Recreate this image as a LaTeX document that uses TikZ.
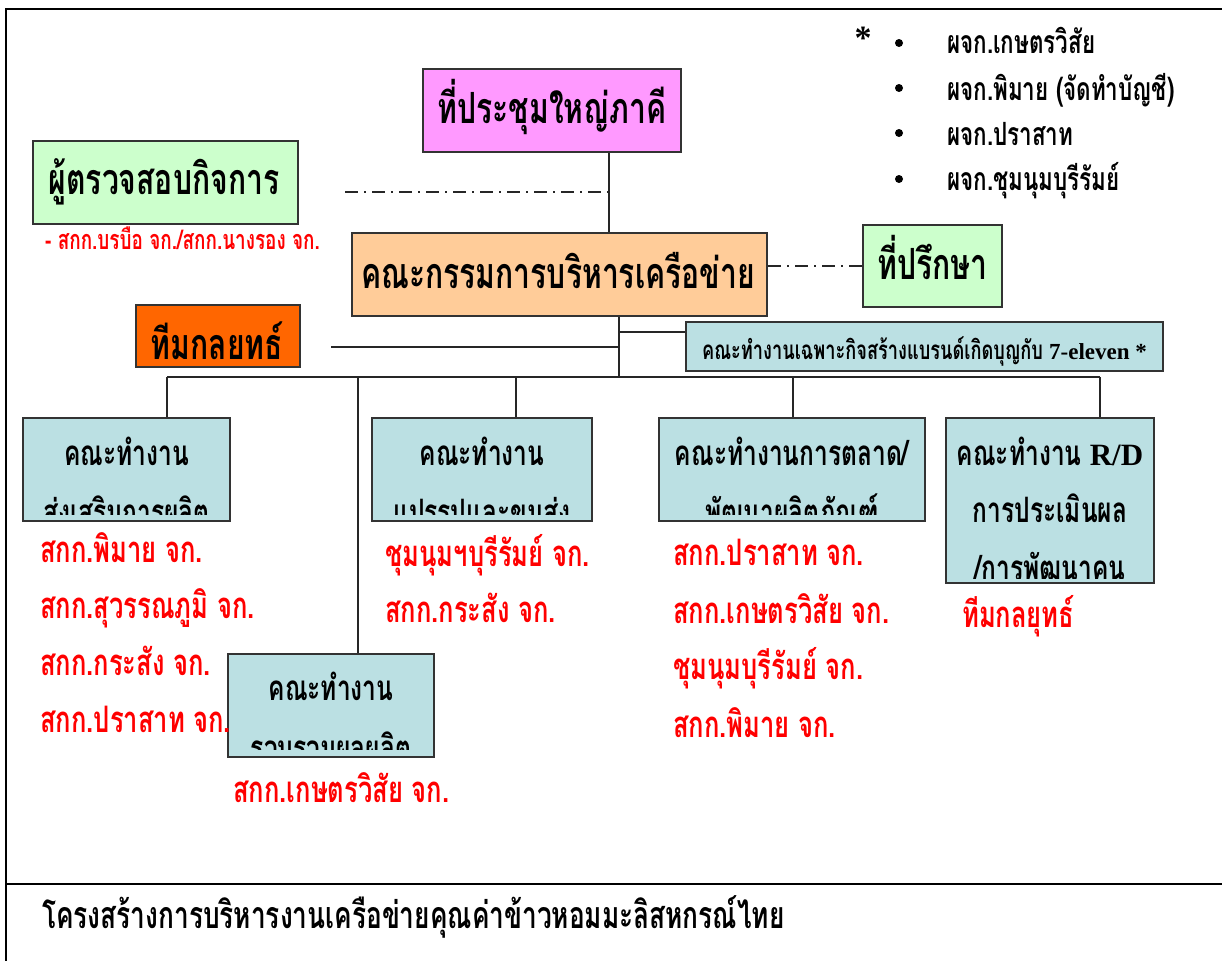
\documentclass[tikz,border=0pt]{standalone}
\usepackage{fontspec}
\setmainfont{Liberation Serif}
\newfontfamily\thai[Script=Thai,FakeStretch=0.7]{Loma}
\usetikzlibrary{calc}
\definecolor{pinkbox}{HTML}{FF99FF}
\definecolor{greenbox}{HTML}{CCFFCC}
\definecolor{peachbox}{HTML}{FFCC99}
\definecolor{orangebox}{HTML}{FF6600}
\definecolor{bluebox}{HTML}{BBE0E3}
\definecolor{redtxt}{HTML}{FF0000}
\definecolor{edge}{HTML}{333333}
\tikzset{
  boxnode/.style={draw=edge, line width=2pt, inner sep=0pt},
  bigtxt/.style={inner sep=0pt, font=\thai\bfseries\fontsize{43}{46}\selectfont},
  midtxt/.style={inner sep=0pt, font=\thai\bfseries\fontsize{35}{38}\selectfont},
  smalltxt/.style={inner sep=0pt, font=\thai\bfseries\fontsize{26}{29}\selectfont},
  redlbl/.style={inner sep=0pt, text=redtxt, anchor=base west, font=\thai\bfseries\fontsize{36.5}{39}\selectfont},
  sublbl/.style={inner sep=0pt, text=redtxt, anchor=base west, font=\thai\bfseries\fontsize{27}{30}\selectfont},
  listtxt/.style={inner sep=0pt, anchor=base west, font=\thai\bfseries\fontsize{32}{34}\selectfont},
  dotnode/.style={circle, fill=black, inner sep=0pt, minimum size=8pt},
  conn/.style={line width=1.6pt, draw=black!85},
  dashdot/.style={line width=1.4pt, draw=black!85, dash pattern=on 13pt off 6pt on 2pt off 6pt},
  frame/.style={line width=2.6pt, draw=black}
}
\begin{document}
\begin{tikzpicture}[x=1pt,y=-1pt]
\useasboundingbox (0,0) rectangle (1222,961);
% frame
\coordinate (fTL) at (6,9);
\coordinate (fTR) at (1222,9);
\coordinate (fBL) at (6,961);
\coordinate (fML) at (6,884);
\coordinate (fMR) at (1222,884);
\draw[frame] (fTR) -- (fTL) -- (fBL);
\draw[frame] (fML) -- (fMR);

% boxes
\node[boxnode, fill=pinkbox, minimum width=258pt, minimum height=83pt] (pink) at (552,110.5) {};
\node[bigtxt, anchor=base] (pinkT) at (552,123) {ที่ประชุมใหญ่ภาคี};
\node[boxnode, fill=greenbox, minimum width=265pt, minimum height=83pt] (audit) at (165.5,182.5) {};
\node[bigtxt, anchor=base] (auditT) at (164,194) {ผู้ตรวจสอบกิจการ};
\node[boxnode, fill=peachbox, minimum width=415pt, minimum height=83pt] (board) at (559.5,274.5) {};
\node[bigtxt, anchor=base] (boardT) at (558,288) {คณะกรรมการบริหารเครือข่าย};
\node[boxnode, fill=greenbox, minimum width=139pt, minimum height=82pt] (advisor) at (932.5,266) {};
\node[bigtxt, anchor=base] (advisorT) at (932.5,279) {ที่ปรึกษา};
\node[boxnode, fill=orangebox, minimum width=164pt, minimum height=62pt] (strat) at (218,336) {};
\node[bigtxt, anchor=base] (stratT) at (217,359) {ทีมกลยทธ์};
\node[boxnode, fill=bluebox, minimum width=477pt, minimum height=49pt] (seven) at (924.5,346.5) {};
\node[smalltxt, anchor=base] (sevenT) at (924.5,359) {คณะทำงานเฉพาะกิจสร้างแบรนด์เกิดบุญกับ {\rmfamily\fontsize{23}{26}\selectfont 7-eleven *}};

\node[boxnode, fill=bluebox, minimum width=207pt, minimum height=103pt] (b1) at (126.5,469.5) {};
\node[boxnode, fill=bluebox, minimum width=220pt, minimum height=103pt] (b2) at (482,469.5) {};
\node[boxnode, fill=bluebox, minimum width=266pt, minimum height=103pt] (b3) at (792,469.5) {};
\node[boxnode, fill=bluebox, minimum width=208pt, minimum height=165pt] (b5) at (1050,500.5) {};
\node[boxnode, fill=bluebox, minimum width=206pt, minimum height=103pt] (b4) at (331,705.5) {};

\begin{scope}
\clip ($(b1.south west)+(2,-8)$) rectangle ($(b1.north east)+(-2,2)$);
\node[midtxt, anchor=base] (b1a) at (126.5,465) {คณะทำงาน};
\node[midtxt, anchor=base] (b1b) at (126.5,524) {ส่งเสริมการผลิต};
\end{scope}
\begin{scope}
\clip ($(b2.south west)+(2,-8)$) rectangle ($(b2.north east)+(-2,2)$);
\node[midtxt, anchor=base] (b2a) at (482,465) {คณะทำงาน};
\node[midtxt, anchor=base] (b2b) at (482,524) {แปรรูปและขนส่ง};
\end{scope}
\begin{scope}
\clip ($(b3.south west)+(2,-8)$) rectangle ($(b3.north east)+(-2,2)$);
\node[midtxt, anchor=base] (b3a) at (792,465) {คณะทำงานการตลาด/};
\node[midtxt, anchor=base] (b3b) at (792,524) {พัฒนาผลิตภัณฑ์};
\end{scope}
\begin{scope}
\clip ($(b5.south west)+(2,-6)$) rectangle ($(b5.north east)+(-2,2)$);
\node[midtxt, anchor=base] (b5a) at (1050,465) {คณะทำงาน {\rmfamily\fontsize{31}{34}\selectfont R/D}};
\node[midtxt, anchor=base] (b5b) at (1050,522) {การประเมินผล};
\node[midtxt, anchor=base] (b5c) at (1050,580) {/การพัฒนาคน};
\end{scope}
\begin{scope}
\clip ($(b4.south west)+(2,-9)$) rectangle ($(b4.north east)+(-2,2)$);
\node[midtxt, anchor=base] (b4a) at (331,700) {คณะทำงาน};
\node[midtxt, anchor=base] (b4b) at (331,760) {รวบรวมผลผลิต};
\end{scope}

% connectors
\coordinate (jTop) at (609,192);
\draw[conn] (pink.south -| jTop) -- (board.north -| jTop);
\coordinate (dAudit) at (345,192);
\draw[dashdot] (dAudit) -- (jTop);
\draw[dashdot] (board.east |- advisor.west) -- (advisor.west);
\coordinate (trunk) at (619,377);
\draw[conn] (board.south -| trunk) -- (trunk);
\coordinate (sTip) at (331,347);
\draw[conn] (sTip) -- (sTip -| trunk);
\coordinate (sevenJ) at (619,332);
\draw[conn] (sevenJ) -- (sevenJ -| seven.west);
\coordinate (busL) at (167,377);
\coordinate (busR) at (1100,377);
\draw[conn] (busL) -- (busR);
\draw[conn] (busL) -- (b1.north -| busL);
\coordinate (d4) at (358,377);
\draw[conn] (d4) -- (b4.north -| d4);
\coordinate (d2) at (516,377);
\draw[conn] (d2) -- (b2.north -| d2);
\coordinate (d3) at (793,377);
\draw[conn] (d3) -- (b3.north -| d3);
\draw[conn] (busR) -- (b5.north -| busR);

% red labels
\node[sublbl] (auditSub) at (45,249) {- สกก.บรบือ จก./สกก.นางรอง จก.};
\node[redlbl] (r11) at (40,562) {สกก.พิมาย จก.};
\node[redlbl] (r12) at (40,618) {สกก.สุวรรณภูมิ จก.};
\node[redlbl] (r13) at (40,675) {สกก.กระสัง จก.};
\node[redlbl] (r14) at (40,732) {สกก.ปราสาท จก.};
\node[redlbl] (r21) at (385,566) {ชุมนุมฯบุรีรัมย์ จก.};
\node[redlbl] (r22) at (385,622) {สกก.กระสัง จก.};
\node[redlbl] (r31) at (673,565) {สกก.ปราสาท จก.};
\node[redlbl] (r32) at (673,623) {สกก.เกษตรวิสัย จก.};
\node[redlbl] (r33) at (673,679) {ชุมนุมบุรีรัมย์ จก.};
\node[redlbl] (r34) at (673,737) {สกก.พิมาย จก.};
\node[redlbl] (r51) at (962,627) {ทีมกลยุทธ์};
\node[redlbl] (r41) at (233,802) {สกก.เกษตรวิสัย จก.};

% list top right
\node[inner sep=0pt, font=\bfseries\fontsize{34}{36}\selectfont] (star) at (863,38) {*};
\node[dotnode] (p1) at (899,43) {};
\node[dotnode] (p2) at (899,88) {};
\node[dotnode] (p3) at (899,133) {};
\node[dotnode] (p4) at (899,179) {};
\node[listtxt] (l1) at (947,53) {ผจก.เกษตรวิสัย};
\node[listtxt] (l2) at (947,100) {ผจก.พิมาย (จัดทำบัญชี)};
\node[listtxt] (l3) at (947,145) {ผจก.ปราสาท};
\node[listtxt] (l4) at (947,190) {ผจก.ชุมนุมบุรีรัมย์};

% caption
\node[inner sep=0pt, anchor=base west, font=\thai\bfseries\fontsize{37.5}{40}\selectfont] (caption) at (42,928) {โครงสร้างการบริหารงานเครือข่ายคุณค่าข้าวหอมมะลิสหกรณ์ไทย};
\end{tikzpicture}
\end{document}
